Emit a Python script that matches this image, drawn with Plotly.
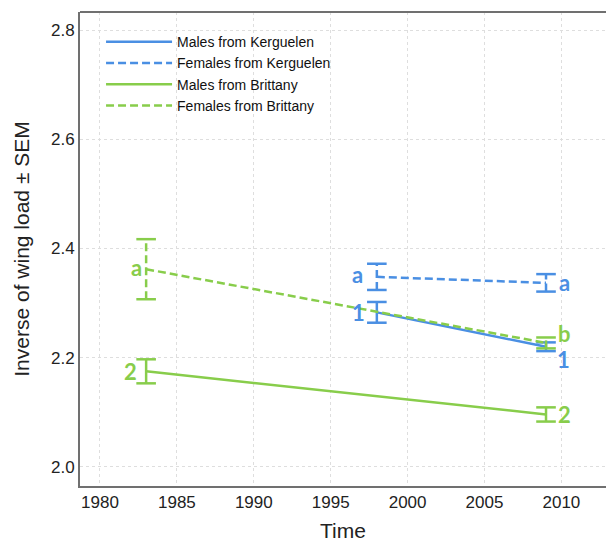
import plotly.graph_objects as go

# ---- data ----
series_names = ["Males from Kerguelen", "Females from Kerguelen",
                "Males from Brittany", "Females from Brittany"]
kerg_years = [1998, 2009]
brit_years = [1983, 2009]
males_kerg_mean = [2.283, 2.220]
males_kerg_sem = [0.019, 0.008]
females_kerg_mean = [2.348, 2.337]
females_kerg_sem = [0.024, 0.016]
males_brit_mean = [2.175, 2.096]
males_brit_sem = [0.022, 0.013]
females_brit_mean = [2.362, 2.227]
females_brit_sem = [0.055, 0.010]
# significance letters (left point, right point)
males_kerg_labels = ["1", "1"]
females_kerg_labels = ["a", "a"]
males_brit_labels = ["2", "2"]
females_brit_labels = ["a", "b"]
x_ticks = [1980, 1985, 1990, 1995, 2000, 2005, 2010]
y_ticks = [2.0, 2.2, 2.4, 2.6, 2.8]

BLUE = "#4a8fe3"
GREEN = "#88cd4b"
DASH = "8px,4px"

series = [
    (series_names[0], kerg_years, males_kerg_mean, males_kerg_sem, BLUE, "solid", males_kerg_labels,
     [(-18, 0), (17, -13)]),
    (series_names[1], kerg_years, females_kerg_mean, females_kerg_sem, BLUE, DASH, females_kerg_labels,
     [(-19, 2), (18, 0)]),
    (series_names[2], brit_years, males_brit_mean, males_brit_sem, GREEN, "solid", males_brit_labels,
     [(-16, 0), (18, 0)]),
    (series_names[3], brit_years, females_brit_mean, females_brit_sem, GREEN, DASH, females_brit_labels,
     [(-10, 2), (18, 9)]),
]

fig = go.Figure()
annotations = []
for name, xs, ys, es, color, dash, labels, offs in series:
    fig.add_trace(go.Scatter(x=xs, y=ys, mode="lines", name=name,
                             line=dict(color=color, width=2.5, dash=dash)))
    ex, ey = [], []
    for x, y, e in zip(xs, ys, es):
        ex += [x, x, None]
        ey += [y - e, y + e, None]
    fig.add_trace(go.Scatter(x=ex, y=ey, mode="lines", showlegend=False, hoverinfo="skip",
                             line=dict(color=color, width=2.5, dash=dash)))
    cx, cy = [], []
    for x, y, e in zip(xs, ys, es):
        cx += [x, x]
        cy += [y - e, y + e]
    fig.add_trace(go.Scatter(x=cx, y=cy, mode="markers", showlegend=False, hoverinfo="skip",
                             marker=dict(symbol="line-ew", size=14,
                                         line=dict(color=color, width=2.5))))
    for x, y, lab, (dx, dy) in zip(xs, ys, labels, offs):
        annotations.append(dict(x=x, y=y, xref="x", yref="y", text=lab, showarrow=False,
                                xshift=dx, yshift=dy, borderpad=0,
                                font=dict(family="Lato, Liberation Sans", size=22, color=color,
                                          weight="bold")))

fig.update_layout(
    width=606, height=542,
    margin=dict(l=80, r=0, t=12, b=56),
    paper_bgcolor="white", plot_bgcolor="white",
    font=dict(family="Liberation Sans, Arial", color="#222"),
    annotations=annotations,
    legend=dict(x=0.04, y=0.970, xanchor="left", yanchor="top",
                bgcolor="rgba(255,255,255,0)", font=dict(size=14, color="#111"),
                itemwidth=66, tracegroupgap=0),
    shapes=[dict(type="line", xref="paper", yref="paper", x0=0, x1=1, y0=1, y1=1,
                 line=dict(color="#707070", width=2))],
)
fig.update_xaxes(range=[1978.7, 2012.9], tickvals=x_ticks, ticktext=[str(t) for t in x_ticks],
                 showline=True, linecolor="#707070", linewidth=2, ticks="",
                 showgrid=True, gridcolor="#dedede", griddash="dot", gridwidth=1,
                 zeroline=False, tickfont=dict(size=17), automargin=False,
                 title=dict(text="Time", font=dict(size=21), standoff=12))
fig.update_yaxes(range=[1.965, 2.833], tickvals=y_ticks, ticktext=[f"{t:.1f}" for t in y_ticks],
                 showline=True, linecolor="#707070", linewidth=2, ticks="",
                 showgrid=True, gridcolor="#dedede", griddash="dot", gridwidth=1,
                 zeroline=False, tickfont=dict(size=17), automargin=False,
                 title=dict(text="Inverse of wing load ± SEM", font=dict(size=21), standoff=16))

fig.write_html("out.html", config={"displayModeBar": False},
               post_script="document.body.style.margin='0';")
